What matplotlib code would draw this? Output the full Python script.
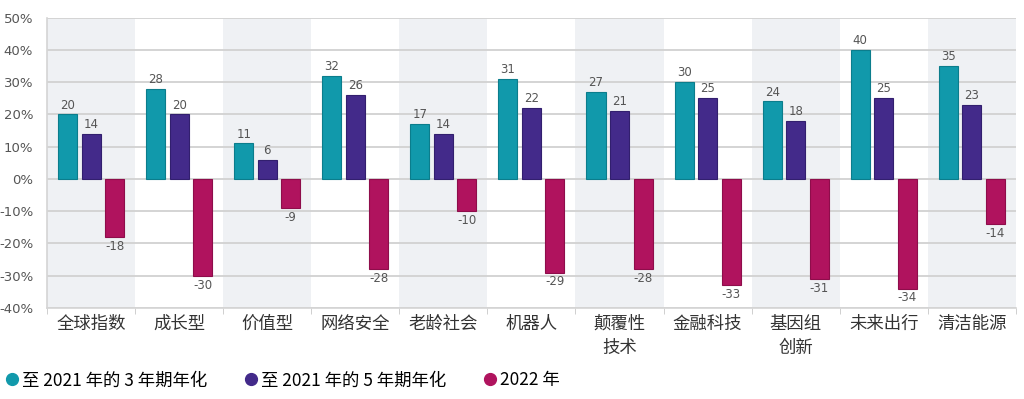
import numpy as np
import matplotlib
matplotlib.use("Agg")
import matplotlib.pyplot as plt
from matplotlib.lines import Line2D

plt.rcParams["font.family"] = ["Noto Sans CJK SC", "DejaVu Sans"]

categories = ["全球指数", "成长型", "价值型", "网络安全", "老龄社会", "机器人",
              "颠覆性\n技术", "金融科技", "基因组\n创新", "未来出行", "清洁能源"]
ann3 = [20, 28, 11, 32, 17, 31, 27, 30, 24, 40, 35]
ann5 = [14, 20, 6, 26, 14, 22, 21, 25, 18, 25, 23]
y2022 = [-18, -30, -9, -28, -10, -29, -28, -33, -31, -34, -14]
series_names = ["至 2021 年的 3 年期年化", "至 2021 年的 5 年期年化", "2022 年"]

colors = ["#1199ab", "#432a8a", "#b0135e"]
edges = ["#0b7d8c", "#321f6e", "#8e0d4b"]

fig = plt.figure(figsize=(10.24, 3.99), dpi=100)
ax = fig.add_axes([0.046, 0.228, 0.946, 0.728])

n = len(categories)
x = np.arange(n)
# alternating background bands
for i in range(0, n, 2):
    ax.axvspan(i - 0.5, i + 0.5, color="#eff1f4", zorder=0, lw=0)

for y in range(-40, 51, 10):
    ax.axhline(y, color="#d4d4d4", lw=1.4, zorder=1)

off = 0.267
w = 0.216
for k, (vals, c, ec) in enumerate(zip([ann3, ann5, y2022], colors, edges)):
    xs = x + (k - 1) * off
    ax.bar(xs, vals, width=w, color=c, edgecolor=ec, lw=0.8, zorder=3)
    for xi, v in zip(xs, vals):
        if v >= 0:
            ax.annotate(str(v), (xi, v), xytext=(0, 2), textcoords="offset points",
                        ha="center", va="bottom", fontsize=8.5, color="#555555",
                        family="DejaVu Sans")
        else:
            ax.annotate(str(v), (xi, v), xytext=(0, -2), textcoords="offset points",
                        ha="center", va="top", fontsize=8.5, color="#555555",
                        family="DejaVu Sans")

ax.set_xlim(-0.5, n - 0.5)
ax.set_ylim(-40, 50)
ax.set_yticks(range(-40, 51, 10))
ax.set_yticklabels([f"{v}%" for v in range(-40, 51, 10)], family="DejaVu Sans",
                   fontsize=9.5, color="#555555")
ax.set_xticks(x)
ax.set_xticklabels(categories, fontsize=12.5, color="#333333", linespacing=1.4, va="top")
ax.set_xticks(np.arange(-0.5, n, 1), minor=True)
ax.tick_params(axis="x", which="major", length=0, pad=5)
ax.tick_params(axis="x", which="minor", length=4, color="#c8c8c8")
ax.tick_params(axis="y", length=0, pad=10)
for s in ["top", "right"]:
    ax.spines[s].set_visible(False)
for s in ["left", "bottom"]:
    ax.spines[s].set_color("#d4d4d4")
    ax.spines[s].set_linewidth(1.2)

handles = [Line2D([], [], marker="o", ls="", markersize=8.5, markerfacecolor=c,
                  markeredgecolor=c) for c in colors]
fig.legend(handles, series_names, loc="lower left", bbox_to_anchor=(-0.012, -0.015),
           ncol=3, frameon=False, fontsize=12.5, handletextpad=0.05,
           columnspacing=2.05, handlelength=1.0)

fig.savefig("out.png", dpi=100)
